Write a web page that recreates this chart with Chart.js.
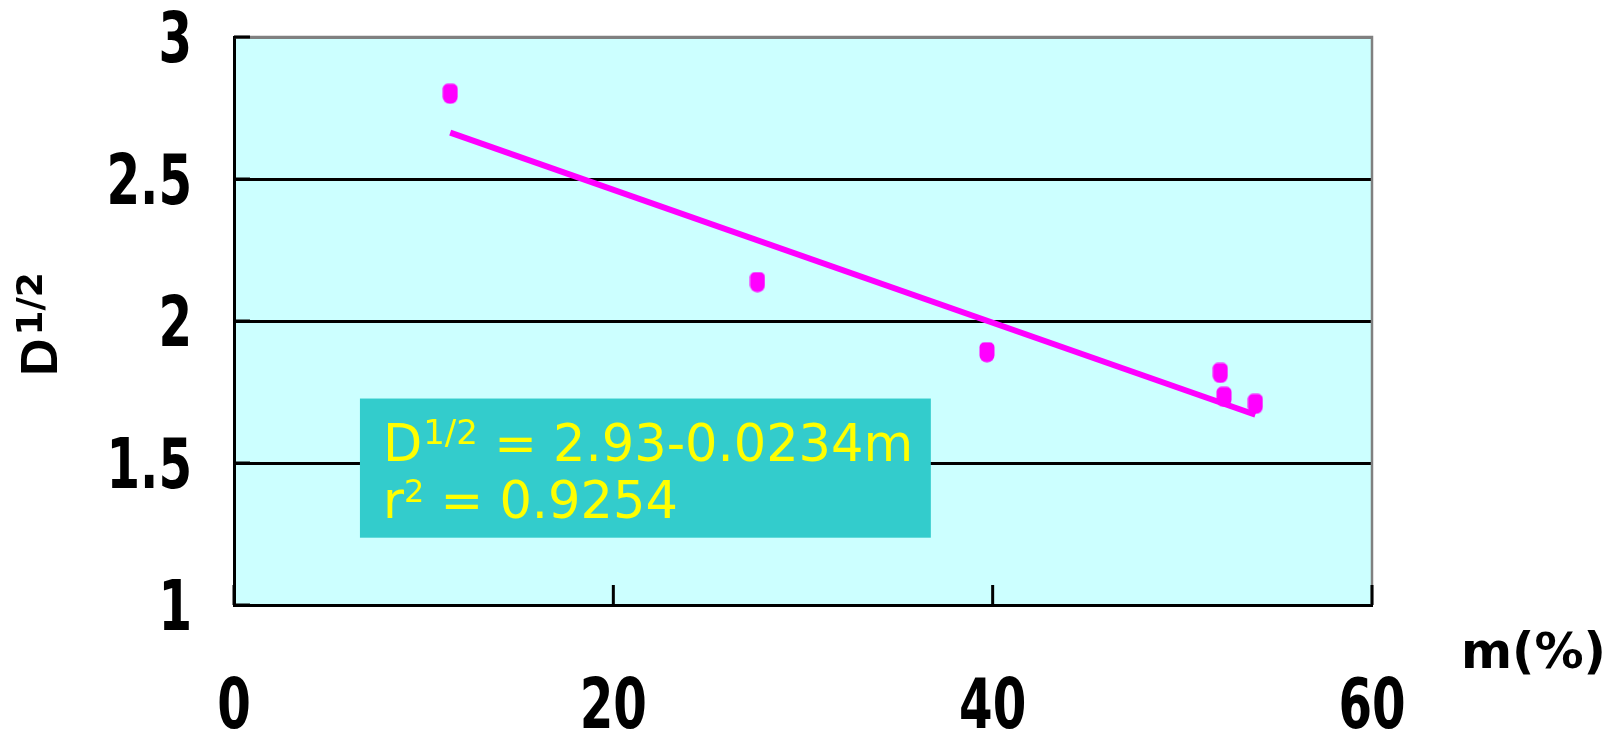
<!DOCTYPE html>
<html>
<head>
<meta charset="utf-8">
<script src="https://cdn.jsdelivr.net/npm/chart.js@4/dist/chart.umd.min.js"></script>
<style>
  html, body { margin: 0; padding: 0; background: #fff; }
  #wrap { width: 1610px; height: 732px; position: relative; }
</style>
</head>
<body>
<div id="wrap"><canvas id="chart"></canvas></div>
<script>
// mesures : teneur m (%) et racine du diamètre
const mValues = [11.4, 27.6, 39.7, 52.0, 52.2, 53.85];
const dValues = [2.80, 2.137, 1.89, 1.817, 1.733, 1.708];

// droite de régression
const fitIntercept = 2.93;
const fitSlope = -0.0234;
const fitR2 = 0.9254;

// graduations
const xTicks = [0, 20, 40, 60];
const yTicks = [1, 1.5, 2, 2.5, 3];

const points = mValues.map((m, i) => ({ x: m, y: dValues[i] }));
const mMin = Math.min(...mValues);
const mMax = Math.max(...mValues);
const fitLine = [mMin, mMax].map(m => ({ x: m, y: fitIntercept + fitSlope * m }));

// marqueur : petit bloc arrondi magenta
function makeMarker() {
  const c = document.createElement("canvas");
  c.width = 16; c.height = 21;
  const g = c.getContext("2d");
  g.fillStyle = "#FF00FF";
  g.beginPath();
  g.roundRect(0.5, 0.5, 15, 20, [5, 5, 7, 7]);
  g.fill();
  return c;
}

// texte comprimé horizontalement (police étroite)
function narrowText(ctx, txt, x, y, align, sx) {
  ctx.save();
  ctx.translate(x, y);
  ctx.scale(sx, 1);
  ctx.textAlign = align;
  ctx.fillText(txt, 0, 0);
  ctx.restore();
}

// fond, bordures et petites graduations intérieures
const plotFrame = {
  id: "plotFrame",
  beforeDraw(chart) {
    const { ctx, chartArea: a } = chart;
    ctx.save();
    ctx.fillStyle = "#CCFFFF";
    ctx.fillRect(a.left, a.top, a.right - a.left, a.bottom - a.top);
    ctx.restore();
  },
  beforeDatasetsDraw(chart) {
    const { ctx, chartArea: a, scales } = chart;
    ctx.save();
    ctx.strokeStyle = "#808080";
    ctx.lineWidth = 2.5;
    ctx.beginPath();
    ctx.moveTo(a.left, a.top);
    ctx.lineTo(a.right, a.top);
    ctx.lineTo(a.right, a.bottom);
    ctx.stroke();
    ctx.strokeStyle = "#000";
    ctx.lineWidth = 3;
    ctx.beginPath();
    xTicks.forEach(v => {
      const px = scales.x.getPixelForValue(v);
      ctx.moveTo(px, a.bottom);
      ctx.lineTo(px, a.bottom - 20);
    });
    yTicks.forEach(v => {
      const py = scales.y.getPixelForValue(v);
      ctx.moveTo(a.left, py);
      ctx.lineTo(a.left + 16, py);
    });
    ctx.stroke();

    // étiquettes des graduations
    ctx.fillStyle = "#000";
    ctx.font = "bold 69px 'DejaVu Sans'";
    ctx.textBaseline = "alphabetic";
    yTicks.forEach(v => {
      narrowText(ctx, String(v), a.left - 42, scales.y.getPixelForValue(v) + 25, "right", 0.7);
    });
    xTicks.forEach(v => {
      narrowText(ctx, String(v), scales.x.getPixelForValue(v), a.bottom + 123, "center", 0.7);
    });
    ctx.restore();
  }
};

// encadré de l'équation + titres des axes
const labels = {
  id: "labels",
  afterDraw(chart) {
    const { ctx, scales, chartArea: a } = chart;
    const x0 = scales.x.getPixelForValue(6.64);
    const x1 = scales.x.getPixelForValue(36.74);
    const y0 = scales.y.getPixelForValue(1.727);
    const y1 = scales.y.getPixelForValue(1.237);
    ctx.save();
    ctx.fillStyle = "#33CCCC";
    ctx.fillRect(x0, y0, x1 - x0, y1 - y0);

    ctx.fillStyle = "#FFFF00";
    ctx.textBaseline = "alphabetic";
    ctx.textAlign = "left";
    const big = "51px 'DejaVu Sans'";
    let tx = x0 + 23, ty = y0 + 62;
    ctx.font = big; ctx.fillText("D", tx, ty); tx += ctx.measureText("D").width + 1;
    ctx.font = "34px 'DejaVu Sans'"; ctx.fillText("1/2", tx, ty - 17); tx += ctx.measureText("1/2").width;
    ctx.font = big; ctx.fillText(" = " + fitIntercept.toFixed(2) + "-" + (-fitSlope).toFixed(4) + "m", tx, ty);
    tx = x0 + 23; ty = y0 + 119;
    ctx.font = big; ctx.fillText("r", tx, ty); tx += ctx.measureText("r").width;
    ctx.font = "32px 'DejaVu Sans'"; ctx.fillText("2", tx, ty - 16); tx += ctx.measureText("2").width;
    ctx.font = big; ctx.fillText(" = " + fitR2.toFixed(4), tx, ty);

    // titre axe x
    ctx.fillStyle = "#000";
    ctx.font = "bold 49px 'DejaVu Sans'";
    ctx.textAlign = "right";
    ctx.fillText("m(%)", 1606, a.bottom + 63);

    // titre axe y (vertical)
    ctx.translate(57, 376);
    ctx.rotate(-Math.PI / 2);
    ctx.textAlign = "left";
    ctx.font = "bold 52px 'Liberation Sans'";
    ctx.fillText("D", 0, 0);
    const dw = ctx.measureText("D").width;
    ctx.font = "bold 36px 'DejaVu Sans'";
    ctx.fillText("1/2", dw + 3, -15);
    ctx.restore();
  }
};

new Chart(document.getElementById("chart"), {
  type: "scatter",
  data: {
    datasets: [
      {
        label: "mesures",
        data: points,
        pointStyle: makeMarker(),
        pointRadius: 10,
        pointHoverRadius: 10
      },
      {
        type: "line",
        label: "régression",
        data: fitLine,
        borderColor: "#FF00FF",
        borderWidth: 6,
        pointRadius: 0,
        fill: false
      }
    ]
  },
  options: {
    responsive: true,
    maintainAspectRatio: false,
    animation: false,
    layout: { padding: { top: 37, right: 238, left: 0, bottom: 0 } },
    plugins: {
      legend: { display: false },
      tooltip: { enabled: false }
    },
    scales: {
      x: {
        type: "linear",
        min: 0, max: 60,
        afterFit: s => { s.height = 127; s.paddingLeft = 0; s.paddingRight = 0; },
        afterBuildTicks: s => { s.ticks = xTicks.map(v => ({ value: v })); },
        grid: { display: false, drawTicks: false },
        border: { display: true, color: "#000", width: 3 },
        ticks: { display: false }
      },
      y: {
        type: "linear",
        min: 1, max: 3,
        afterFit: s => { s.width = 234; s.paddingTop = 0; s.paddingBottom = 0; },
        afterBuildTicks: s => { s.ticks = yTicks.map(v => ({ value: v })); },
        grid: {
          drawTicks: false,
          lineWidth: 3,
          color: c => (c.tick && c.tick.value === 3 ? "#808080" : "#000")
        },
        border: { display: true, color: "#000", width: 3 },
        ticks: { display: false }
      }
    }
  },
  plugins: [plotFrame, labels]
});
</script>
</body>
</html>
